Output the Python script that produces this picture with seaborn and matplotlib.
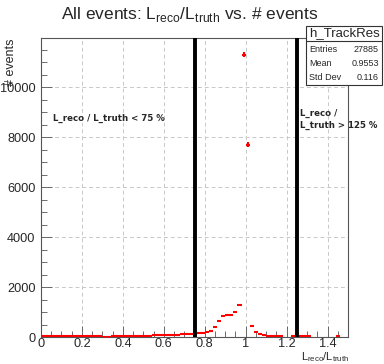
import numpy as np
import pandas as pd
import matplotlib
matplotlib.use("Agg")
import matplotlib.pyplot as plt
from matplotlib.patches import Rectangle
from matplotlib.lines import Line2D
from matplotlib.ticker import MultipleLocator
import seaborn as sns

# ---- data ----
bin_centers = [round(0.01 + 0.02 * i, 2) for i in range(75)]
counts = [
    40, 40, 45, 50, 55, 55, 50, 40, 30, 30,        # 0.01 - 0.19
    25, 25, 25, 25, 25, 20, 20, 25, 25, 30,        # 0.21 - 0.39
    35, 40, 45, 50, 55, 55, 60, 65, 70, 75,        # 0.41 - 0.59
    80, 85, 95, 100, 110, 120, 130, 140, 150, 170, # 0.61 - 0.79
    200, 250, 400, 625, 830, 880, 900, 1020, 1300, 11300,  # 0.81 - 0.99
    7700, 450, 220, 130, 90, 55, 45, 30, 25, 0,    # 1.01 - 1.19
    0, 25, 25, 30, 30, 25, 0, 0, 0, 0,             # 1.21 - 1.39
    0, 0, 30, 0, 0,                                # 1.41 - 1.49
]
bin_width = 0.02
cut_lines = [0.75, 1.25]
x_ticks = [0, 0.2, 0.4, 0.6, 0.8, 1.0, 1.2, 1.4]
x_tick_labels = ["0", "0.2", "0.4", "0.6", "0.8", "1", "1.2", "1.4"]
y_ticks = [0, 2000, 4000, 6000, 8000, 10000]
y_tick_labels = ["0", "2000", "4000", "6000", "8000", "10000"]
stats_names = ["Entries", "Mean", "Std Dev"]
stats_values = ["27885", "0.9553", "0.116"]

df = pd.DataFrame({"x": bin_centers, "n": counts})
df = df[df["n"] > 0]

sns.set_theme(style="white")
plt.rcParams["font.family"] = ["Liberation Sans", "DejaVu Sans"]

fig = plt.figure(figsize=(3.84, 3.64), dpi=100)
ax = fig.add_axes([41 / 384, 1 - 337 / 364, (348 - 41) / 384, (337 - 38) / 364])

ax.errorbar(df["x"], df["n"], xerr=bin_width / 2, yerr=np.sqrt(df["n"]),
            fmt="none", ecolor="#ff0000", elinewidth=1.5, capsize=0, zorder=3)
sns.scatterplot(data=df, x="x", y="n", color="#ff0000", marker="s", s=4,
                linewidth=0, ax=ax, zorder=4, legend=False)

for c in cut_lines:
    ax.axvline(c, color="black", lw=2.8, zorder=5)

ax.set_xlim(0, 1.5)
ax.set_ylim(0, 11970)
ax.set_xticks(x_ticks)
ax.set_xticklabels(x_tick_labels)
ax.set_yticks(y_ticks)
ax.set_yticklabels(y_tick_labels)
ax.xaxis.set_minor_locator(MultipleLocator(0.05))
ax.yaxis.set_minor_locator(MultipleLocator(500))
ax.tick_params(axis="both", which="major", direction="in", length=8, width=0.6,
               labelsize=9.2, color="#555555", bottom=True, left=True)
ax.tick_params(axis="x", which="major", pad=1.0)
ax.tick_params(axis="y", which="major", pad=4.0)
ax.tick_params(axis="both", which="minor", direction="in", length=4, width=0.6,
               color="#555555", bottom=True, left=True)
ax.grid(True, which="major", linestyle=(0, (4, 3)), color="#c8c8c8", lw=0.7)
ax.set_axisbelow(True)
for s in ax.spines.values():
    s.set_color("#555555")
    s.set_linewidth(0.8)

ax.set_xlabel("")
ax.set_ylabel("")
fig.text(349 / 384, 0.0, r"L$_{\mathregular{reco}}$/L$_{\mathregular{truth}}$",
         ha="right", va="bottom", fontsize=8)
fig.text(11 / 384, 1 - 38 / 364, "# events", rotation=90, ha="center", va="top", fontsize=9)

fig.text(190 / 384, 1 - 15 / 364,
         r"All events: L$_{\mathregular{reco}}$/L$_{\mathregular{truth}}$ vs. # events",
         ha="center", va="center", fontsize=12.5)

ax.text(0.06, 8750, "L_reco / L_truth < 75 %", fontsize=6.2, fontweight="bold",
        family="DejaVu Sans", ha="left", va="center")
ax.text(1.265, 8700, "L_reco /\nL_truth > 125 %", fontsize=6.2, fontweight="bold",
        family="DejaVu Sans", ha="left", va="center", linespacing=1.4)

# stats box
bx0, bx1 = 306 / 384, 382 / 384
by0, by1 = 1 - 85 / 364, 1 - 26 / 364
fig.add_artist(Rectangle((bx0, by0), bx1 - bx0, by1 - by0, transform=fig.transFigure,
                         facecolor="white", edgecolor="#333333", lw=0.8))
sep = 1 - 41 / 364
fig.add_artist(Line2D([bx0, bx1], [sep, sep], transform=fig.transFigure, color="#333333", lw=0.8))
fig.text((bx0 + bx1) / 2, (by1 + sep) / 2, "h_TrackRes", ha="center", va="center", fontsize=9.5)
row_y = [50, 63, 77]
for name, val, yy in zip(stats_names, stats_values, row_y):
    fig.text(309 / 384, 1 - yy / 364, name, ha="left", va="center", fontsize=6.5)
    fig.text(379 / 384, 1 - yy / 364, val, ha="right", va="center", fontsize=6.5)

fig.savefig("out.png", dpi=100)
